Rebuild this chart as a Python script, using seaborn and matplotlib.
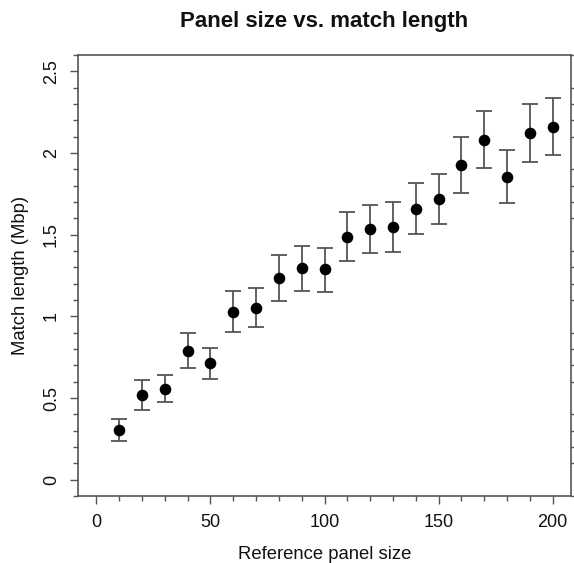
import numpy as np
import pandas as pd
import matplotlib
matplotlib.use("Agg")
import matplotlib.pyplot as plt
from matplotlib.ticker import MultipleLocator
import seaborn as sns

panel_size = [10, 20, 30, 40, 50, 60, 70, 80, 90, 100,
              110, 120, 130, 140, 150, 160, 170, 180, 190, 200]
match_len = [0.306, 0.521, 0.558, 0.790, 0.713, 1.029, 1.054, 1.234, 1.295, 1.287,
             1.487, 1.534, 1.548, 1.660, 1.718, 1.924, 2.079, 1.853, 2.122, 2.161]
err_low = [0.239, 0.429, 0.474, 0.682, 0.619, 0.905, 0.933, 1.095, 1.156, 1.152,
           1.340, 1.389, 1.395, 1.507, 1.567, 1.757, 1.906, 1.691, 1.947, 1.990]
err_high = [0.372, 0.613, 0.641, 0.897, 0.805, 1.156, 1.176, 1.375, 1.432, 1.420,
            1.636, 1.683, 1.701, 1.816, 1.871, 2.096, 2.255, 2.018, 2.300, 2.336]
x_ticks = [0, 50, 100, 150, 200]
y_ticks = [0, 0.5, 1, 1.5, 2, 2.5]
y_tick_labels = ["0", "0.5", "1", "1.5", "2", "2.5"]

df = pd.DataFrame({"size": panel_size, "len": match_len,
                   "lo": err_low, "hi": err_high})

sns.set_theme(style="white")
plt.rcParams["font.family"] = ["Liberation Sans", "DejaVu Sans"]

W, H = 574, 563
fig = plt.figure(figsize=(W / 100, H / 100), dpi=100)
ax = fig.add_axes([78 / W, 1 - 496 / H, (571 - 78) / W, (496 - 55) / H])

grey = "#555555"
ax.errorbar(df["size"], df["len"],
            yerr=[df["len"] - df["lo"], df["hi"] - df["len"]],
            fmt="none", ecolor=grey, elinewidth=1.3, capsize=6, capthick=1.3,
            zorder=2)
sns.scatterplot(data=df, x="size", y="len", ax=ax, color="black", s=70,
                edgecolor="black", linewidth=0, zorder=3)

ax.set_xlim(-8, 208)
ax.set_ylim(-0.1, 2.6)
ax.set_xticks(x_ticks)
ax.set_xticklabels([str(v) for v in x_ticks])
ax.set_yticks(y_ticks)
ax.set_yticklabels(y_tick_labels, rotation=90, va="center")
ax.xaxis.set_minor_locator(MultipleLocator(10))
ax.yaxis.set_minor_locator(MultipleLocator(0.1))

ax.tick_params(axis="both", which="major", direction="out", length=6, width=1,
               color=grey, labelsize=13, labelcolor="#111111", pad=7,
               bottom=True, left=True)
ax.tick_params(axis="both", which="minor", direction="out", length=3.5, width=1,
               color=grey, bottom=True, left=True)
ax.tick_params(axis="y", which="both", right=True)
ax.tick_params(axis="y", which="major", right=False)

for s in ax.spines.values():
    s.set_visible(True)
    s.set_color(grey)
    s.set_linewidth(1.2)

ax.set_xlabel("Reference panel size", fontsize=13.3, color="#111111", labelpad=11)
ax.set_ylabel("Match length (Mbp)", fontsize=13.3, color="#111111", labelpad=10)
ax.set_title("Panel size vs. match length", fontsize=16, fontweight="bold",
             color="#111111", pad=20)

fig.savefig("out.png", dpi=100, facecolor="white")
